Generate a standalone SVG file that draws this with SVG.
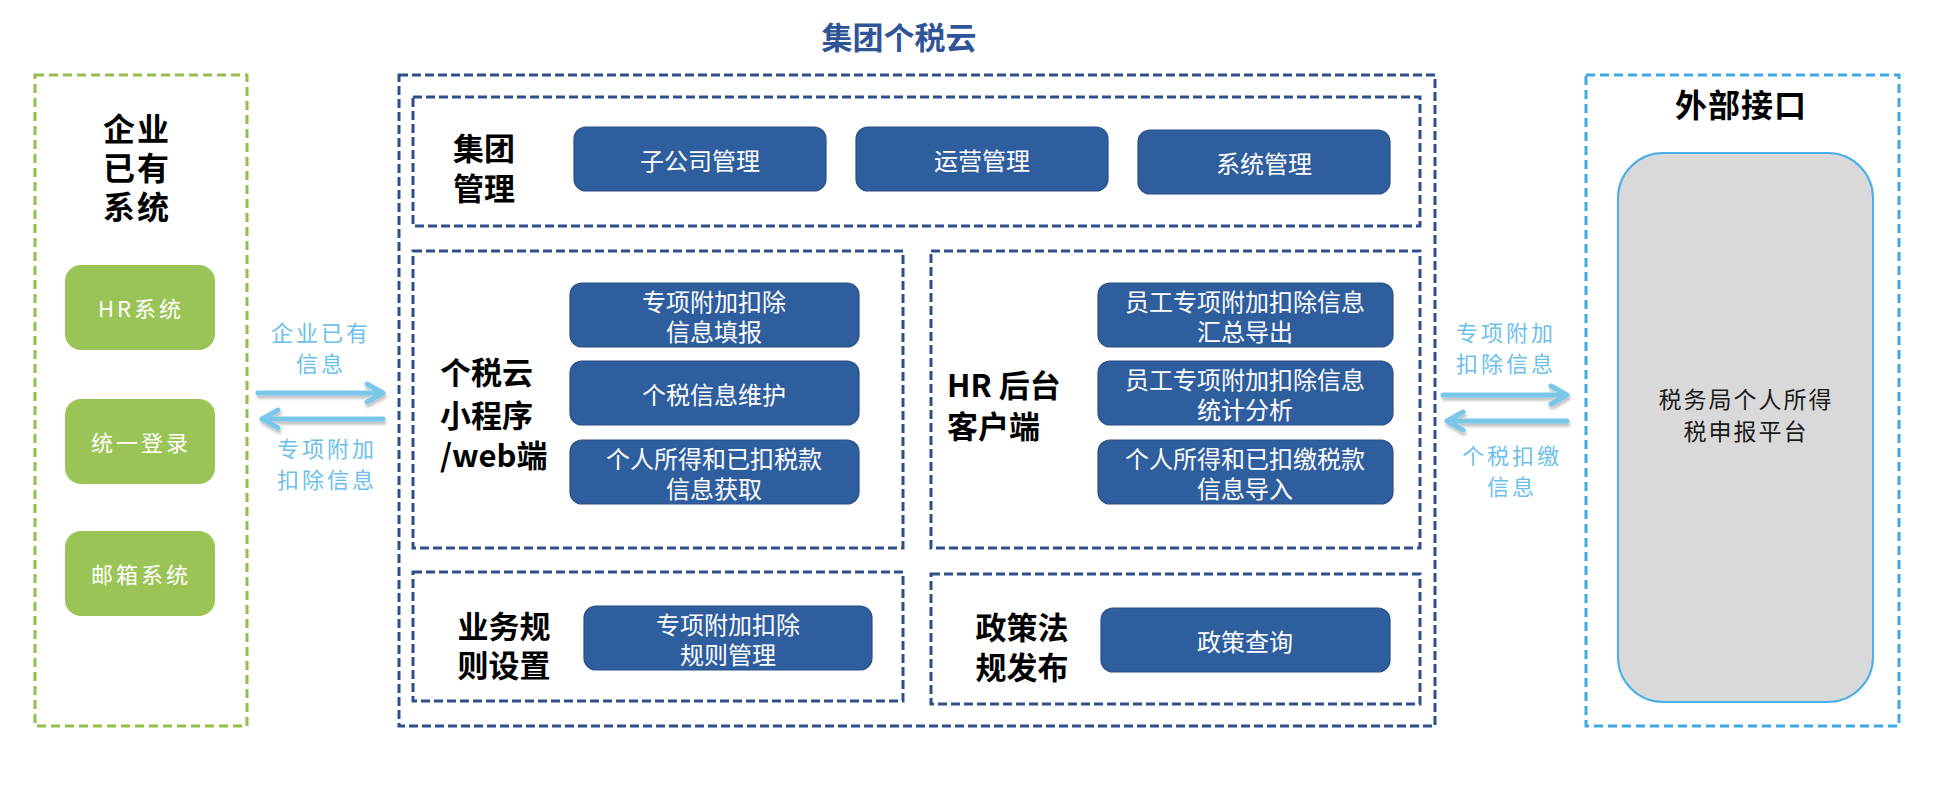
<svg xmlns="http://www.w3.org/2000/svg" width="1936" height="796" viewBox="0 0 1936 796">
<defs>
<style>
.cjk{font-family:"Noto Sans CJK SC","Liberation Sans",sans-serif;}
.gbox{fill:none;stroke:#92C04A;stroke-width:3;stroke-dasharray:9 5;}
.bbox{fill:none;stroke:#2F4E8C;stroke-width:3;stroke-dasharray:9 4;}
.lbbox{fill:none;stroke:#41A8E6;stroke-width:3;stroke-dasharray:9 5;}
.gbtn{fill:#9BC457;}
.btn{fill:#2F5E9F;stroke:#2A4E85;stroke-width:1.2;}
.btxt{font-size:24px;fill:#FFFFFF;text-anchor:middle;dominant-baseline:central;}
.gtxt{font-size:22px;fill:#FFFFFF;text-anchor:middle;dominant-baseline:central;letter-spacing:3px;}
.sec{font-size:31px;font-weight:bold;fill:#000000;dominant-baseline:central;}
.ltxt{font-size:22px;fill:#6DC0EA;text-anchor:middle;dominant-baseline:central;letter-spacing:3px;}
.arr{fill:none;stroke:#7AC7EA;stroke-width:5;stroke-linecap:round;stroke-linejoin:round;}
</style>
<filter id="sh" x="-10%" y="-50%" width="120%" height="200%">
<feDropShadow dx="1" dy="3" stdDeviation="1.5" flood-color="#000000" flood-opacity="0.25"/>
</filter>
</defs>
<rect width="1936" height="796" fill="#FFFFFF"/>

<g id="enterprise">
<rect class="gbox" x="35" y="75" width="212" height="651"/>
<text class="cjk" font-size="32" font-weight="bold" text-anchor="middle" dominant-baseline="central" letter-spacing="2"><tspan x="137" y="127">企业</tspan><tspan x="137" y="166">已有</tspan><tspan x="137" y="205">系统</tspan></text>
</g>
<g id="hr-system"><rect class="gbtn" x="65" y="265" width="150" height="85" rx="16"/><text class="cjk gtxt" x="141" y="307">HR系统</text></g>
<g id="sso"><rect class="gbtn" x="65" y="399" width="150" height="85" rx="16"/><text class="cjk gtxt" x="141" y="441">统一登录</text></g>
<g id="mail"><rect class="gbtn" x="65" y="531" width="150" height="85" rx="16"/><text class="cjk gtxt" x="141" y="573">邮箱系统</text></g>

<g id="group-cloud">
<text class="cjk" x="899" y="35" font-size="31" font-weight="bold" fill="#2F5597" text-anchor="middle" dominant-baseline="central">集团个税云</text>
<rect class="bbox" x="399" y="75" width="1036" height="651"/>
</g>

<g id="group-mgmt">
<rect class="bbox" x="413" y="97" width="1007" height="129"/>
<text class="cjk sec" text-anchor="middle"><tspan x="484" y="146">集团</tspan><tspan x="484" y="186">管理</tspan></text>
</g>
<g id="subsidiary"><rect class="btn" x="574" y="127" width="252" height="64" rx="12"/><text class="cjk btxt" x="700" y="159">子公司管理</text></g>
<g id="operation"><rect class="btn" x="856" y="127" width="252" height="64" rx="12"/><text class="cjk btxt" x="982" y="159">运营管理</text></g>
<g id="sysmgmt"><rect class="btn" x="1138" y="130" width="252" height="64" rx="12"/><text class="cjk btxt" x="1264" y="162">系统管理</text></g>

<g id="miniprogram">
<rect class="bbox" x="413" y="251" width="490" height="297"/>
<text class="cjk sec"><tspan x="440" y="370">个税云</tspan><tspan x="440" y="413">小程序</tspan><tspan x="440" y="453">/web端</tspan></text>
</g>
<g id="mp-fill"><rect class="btn" x="570" y="283" width="289" height="64" rx="12"/><text class="cjk btxt"><tspan x="714" y="300">专项附加扣除</tspan><tspan x="714" y="330">信息填报</tspan></text></g>
<g id="mp-maintain"><rect class="btn" x="570" y="361" width="289" height="64" rx="12"/><text class="cjk btxt" x="714" y="393">个税信息维护</text></g>
<g id="mp-get"><rect class="btn" x="570" y="440" width="289" height="64" rx="12"/><text class="cjk btxt"><tspan x="714" y="457">个人所得和已扣税款</tspan><tspan x="714" y="487">信息获取</tspan></text></g>

<g id="hr-client">
<rect class="bbox" x="931" y="251" width="489" height="297"/>
<text class="cjk sec"><tspan x="947" y="383">HR 后台</tspan><tspan x="947" y="424">客户端</tspan></text>
</g>
<g id="hr-export"><rect class="btn" x="1098" y="283" width="295" height="64" rx="12"/><text class="cjk btxt"><tspan x="1245" y="300">员工专项附加扣除信息</tspan><tspan x="1245" y="330">汇总导出</tspan></text></g>
<g id="hr-stat"><rect class="btn" x="1098" y="361" width="295" height="64" rx="12"/><text class="cjk btxt"><tspan x="1245" y="378">员工专项附加扣除信息</tspan><tspan x="1245" y="408">统计分析</tspan></text></g>
<g id="hr-import"><rect class="btn" x="1098" y="440" width="295" height="64" rx="12"/><text class="cjk btxt"><tspan x="1245" y="457">个人所得和已扣缴税款</tspan><tspan x="1245" y="487">信息导入</tspan></text></g>

<g id="rules">
<rect class="bbox" x="413" y="572" width="490" height="129"/>
<text class="cjk sec" text-anchor="middle"><tspan x="504" y="624">业务规</tspan><tspan x="504" y="663">则设置</tspan></text>
</g>
<g id="rule-mgmt"><rect class="btn" x="584" y="606" width="288" height="64" rx="12"/><text class="cjk btxt"><tspan x="728" y="623">专项附加扣除</tspan><tspan x="728" y="653">规则管理</tspan></text></g>

<g id="policy">
<rect class="bbox" x="931" y="574" width="489" height="130"/>
<text class="cjk sec" text-anchor="middle"><tspan x="1022" y="625">政策法</tspan><tspan x="1022" y="665">规发布</tspan></text>
</g>
<g id="policy-query"><rect class="btn" x="1101" y="608" width="289" height="64" rx="12"/><text class="cjk btxt" x="1245" y="640">政策查询</text></g>

<g id="external">
<rect class="lbbox" x="1586" y="75" width="313" height="651"/>
<text class="cjk" x="1741" y="103" font-size="32" font-weight="bold" text-anchor="middle" dominant-baseline="central" letter-spacing="1">外部接口</text>
</g>
<g id="tax-platform">
<rect x="1618" y="153" width="255" height="549" rx="45" fill="#D9D9D9" stroke="#4AAEE8" stroke-width="2"/>
<text class="cjk" font-size="23" fill="#1A1A1A" text-anchor="middle" dominant-baseline="central" letter-spacing="2"><tspan x="1746" y="398">税务局个人所得</tspan><tspan x="1746" y="430">税申报平台</tspan></text>
</g>

<g id="connectors">
<g filter="url(#sh)">
<path class="arr" d="M258,393 L383,393 M367,384 L383,393 L367,402"/>
<path class="arr" d="M383,419 L262,419 M278,410 L262,419 L278,428"/>
<path class="arr" d="M1443,395 L1567,395 M1551,386 L1567,395 L1551,404"/>
<path class="arr" d="M1567,421 L1447,421 M1463,412 L1447,421 L1463,430"/>
</g>
<text class="cjk ltxt"><tspan x="321" y="331">企业已有</tspan><tspan x="321" y="362">信息</tspan></text>
<text class="cjk ltxt"><tspan x="327" y="447">专项附加</tspan><tspan x="327" y="478">扣除信息</tspan></text>
<text class="cjk ltxt"><tspan x="1506" y="331">专项附加</tspan><tspan x="1506" y="362">扣除信息</tspan></text>
<text class="cjk ltxt"><tspan x="1512" y="454">个税扣缴</tspan><tspan x="1512" y="485">信息</tspan></text>
</g>
</svg>
